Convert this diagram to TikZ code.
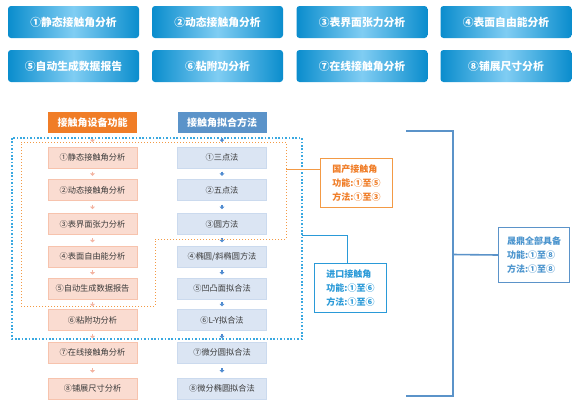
\documentclass[tikz,border=0pt]{standalone}
\usepackage{fontspec}
\setmainfont{Noto Sans CJK SC}
\usetikzlibrary{arrows.meta,calc}
\definecolor{btnDark}{HTML}{0A8DCD}
\definecolor{btnLight}{HTML}{80CDF3}
\definecolor{hdrOrange}{HTML}{F07D27}
\definecolor{hdrBlue}{HTML}{5B93C9}
\definecolor{lFill}{HTML}{FADCD1}
\definecolor{lDraw}{HTML}{F7C3AD}
\definecolor{rFill}{HTML}{DBE5F3}
\definecolor{rDraw}{HTML}{CBDAEE}
\definecolor{txtGray}{HTML}{3A3A3A}
\definecolor{oLine}{HTML}{F39A45}
\definecolor{bDot}{HTML}{3AA8E0}
\definecolor{bLine}{HTML}{2A9AD8}
\definecolor{gLine}{HTML}{5B93C9}
\definecolor{lArrow}{HTML}{F3B3A0}
\definecolor{rArrow}{HTML}{4F8BD0}
\begin{document}
\begin{tikzpicture}[x=1pt,y=-1pt,
  btn/.style={minimum width=131pt,minimum height=32pt,rounded corners=3pt,
    left color=btnDark,right color=btnDark,middle color=btnLight,shading angle=90,
    text=white,font=\bfseries\fontsize{10.8}{12}\selectfont,inner sep=0pt},
  hdr/.style={minimum width=89pt,minimum height=21pt,text=white,
    font=\bfseries\fontsize{10}{11}\selectfont,inner sep=0pt},
  lbox/.style={minimum width=89pt,minimum height=21pt,fill=lFill,draw=lDraw,line width=0.6pt,
    text=txtGray,font=\fontsize{8.2}{9}\selectfont,inner sep=0pt},
  rbox/.style={minimum width=89pt,minimum height=21pt,fill=rFill,draw=rDraw,line width=0.6pt,
    text=txtGray,font=\fontsize{8.2}{9}\selectfont,inner sep=0pt},
  tag/.style={draw,line width=1pt,fill=white,align=left,anchor=north west,
    font=\bfseries\fontsize{9}{14}\selectfont,inner xsep=6pt,inner ysep=3pt},
  larr/.style={draw=lArrow,line width=1.2pt,-{Triangle[length=2.5pt,width=4.5pt]},fill=lArrow},
  rarr/.style={draw=rArrow,line width=1.2pt,-{Triangle[length=2.5pt,width=4.5pt]},fill=rArrow}
]
\useasboundingbox[fill=white] (0,0) rectangle (580,416);

% top buttons
\node[btn] (b1) at (73.5,22) {①静态接触角分析};
\node[btn] (b2) at (217.5,22) {②动态接触角分析};
\node[btn] (b3) at (362,22) {③表界面张力分析};
\node[btn] (b4) at (506,22) {④表面自由能分析};
\node[btn] (b5) at (73.5,66) {⑤自动生成数据报告};
\node[btn] (b6) at (217.5,66) {⑥粘附功分析};
\node[btn] (b7) at (362,66) {⑦在线接触角分析};
\node[btn] (b8) at (506,66) {⑧铺展尺寸分析};

% headers
\node[hdr,fill=hdrOrange] (hl) at (92.5,122.5) {接触角设备功能};
\node[hdr,fill=hdrBlue] (hr) at (222,122.5) {接触角拟合方法};

% left column
\node[lbox] (l1) at (92.5,157.5) {①静态接触角分析};
\node[lbox] (l2) at (92.5,190) {②动态接触角分析};
\node[lbox] (l3) at (92.5,224) {③表界面张力分析};
\node[lbox] (l4) at (92.5,256.5) {④表面自由能分析};
\node[lbox] (l5) at (92.5,288.5) {⑤自动生成数据报告};
\node[lbox] (l6) at (92.5,320) {⑥粘附功分析};
\node[lbox] (l7) at (92.5,352.5) {⑦在线接触角分析};
\node[lbox] (l8) at (92.5,388.5) {⑧铺展尺寸分析};

% right column
\node[rbox] (r1) at (222,157.5) {①三点法};
\node[rbox] (r2) at (222,190) {②五点法};
\node[rbox] (r3) at (222,224) {③圆方法};
\node[rbox] (r4) at (222,256.5) {④椭圆/斜椭圆方法};
\node[rbox] (r5) at (222,288.5) {⑤凹凸面拟合法};
\node[rbox] (r6) at (222,320) {⑥L-Y拟合法};
\node[rbox] (r7) at (222,352.5) {⑦微分圆拟合法};
\node[rbox] (r8) at (222,388.5) {⑧微分椭圆拟合法};

% arrows (short, centred in the gaps)
\foreach \a/\b in {hl/l1,l1/l2,l2/l3,l3/l4,l4/l5,l5/l6,l6/l7,l7/l8}
  \draw[larr] ($(\a.south)!0.5!(\b.north)+(0,-2.2)$) -- ++(0,4.4);
\foreach \a/\b in {hr/r1,r1/r2,r2/r3,r3/r4,r4/r5,r5/r6,r6/r7,r7/r8}
  \draw[rarr] ($(\a.south)!0.5!(\b.north)+(0,-2.2)$) -- ++(0,4.4);

% dotted regions
\draw[bDot,line width=1.6pt,dash pattern=on 1.6pt off 1.8pt] (12,138) rectangle (302,339);
\draw[oLine,line width=0.8pt,dash pattern=on 1pt off 2pt]
  (21,142) -- (286,142) -- (286,239) -- (155,239) -- (155,306) -- (21,306) -- cycle;

% tags
\node[tag,draw=oLine,text=hdrOrange,minimum width=72pt,minimum height=49pt] (ot) at (320,158)
  {国产接触角\\功能:①至⑤\\方法:①至③};
\node[tag,draw=bLine,text=bLine,minimum width=72pt,minimum height=49pt] (bt) at (314,263)
  {进口接触角\\功能:①至⑥\\方法:①至⑥};
\node[tag,draw=gLine,text=hdrBlue!70!bLine,minimum width=71pt,minimum height=55pt,inner ysep=5pt] (gt) at (498,227)
  {晟鼎全部具备\\功能:①至⑧\\方法:①至⑧};

% connectors
\coordinate (oc) at (286,169);
\draw[oLine,line width=1pt] (oc) -- (oc -| ot.west);
\coordinate (bc) at (302,235);
\draw[bLine,line width=1pt] (bc) -| ([xshift=-3pt]bt.north);
\coordinate (gt1) at (406,131);
\coordinate (gb1) at (406,396);
\draw[gLine,line width=1.6pt] (gt1) -| (453,396) -- (gb1);
\draw[gLine,line width=1.6pt] (453,254.5) -- (gt.west);
\end{tikzpicture}
\end{document}
